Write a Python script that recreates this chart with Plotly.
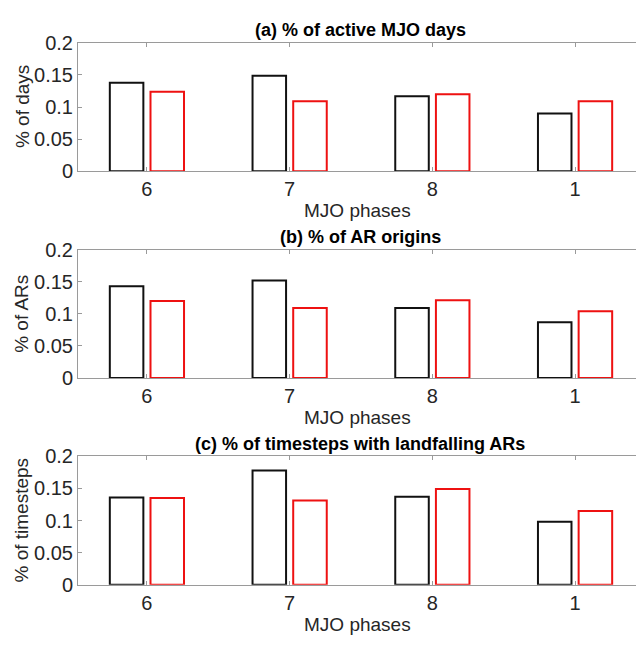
import plotly.graph_objects as go

W, H = 636, 645

phases = ["6", "7", "8", "1"]
positions = [1, 2, 3, 4]

days_black = [0.138, 0.149, 0.117, 0.090]
days_red = [0.124, 0.109, 0.120, 0.109]

origins_black = [0.143, 0.152, 0.109, 0.087]
origins_red = [0.120, 0.109, 0.121, 0.104]

land_black = [0.136, 0.178, 0.137, 0.098]
land_red = [0.135, 0.131, 0.149, 0.115]

panel_titles = ["(a) % of active MJO days", "(b) % of AR origins",
                "(c) % of timesteps with landfalling ARs"]
y_titles = ["% of days", "% of ARs", "% of timesteps"]
x_title = "MJO phases"
y_ticks = [0, 0.05, 0.1, 0.15, 0.2]
y_ticktext = ["0", "0.05", "0.1", "0.15", "0.2"]

series = [(days_black, days_red), (origins_black, origins_red), (land_black, land_red)]

# pixel geometry of each panel (top, bottom)
panels_px = [(33, 166), (247, 380), (461, 594)]
left_px = 78

FONT = "Helvetica, Liberation Sans, Arial, sans-serif"
AXC = "#9a9a9a"
TXT = "#262626"

fig = go.Figure()
annotations = []
for i, ((blk, red), (top, bot)) in enumerate(zip(series, panels_px)):
    xa = "x" if i == 0 else f"x{i+1}"
    ya = "y" if i == 0 else f"y{i+1}"
    fig.add_trace(go.Bar(x=positions, y=blk, width=0.235, offset=-0.26,
                         marker=dict(color="white", line=dict(color="#111111", width=2)),
                         xaxis=xa, yaxis=ya, showlegend=False))
    fig.add_trace(go.Bar(x=positions, y=red, width=0.235, offset=0.025,
                         marker=dict(color="white", line=dict(color="#ee1111", width=2)),
                         xaxis=xa, yaxis=ya, showlegend=False))
    dom_y = [1 - bot / H, 1 - top / H]
    xkey = "xaxis" if i == 0 else f"xaxis{i+1}"
    ykey = "yaxis" if i == 0 else f"yaxis{i+1}"
    fig.update_layout(**{
        xkey: dict(domain=[left_px / W, 1.0], range=[0.517, 4.427],
                   tickvals=positions, ticktext=phases, anchor=ya,
                   showline=True, linecolor=AXC, linewidth=1, mirror="ticks",
                   ticks="inside", ticklen=4, tickcolor=AXC, showgrid=False,
                   zeroline=False, tickfont=dict(size=20, color=TXT, family=FONT),
                   ticklabelstandoff=0),
        ykey: dict(domain=dom_y, range=[0, 0.2], tickvals=y_ticks, ticktext=y_ticktext,
                   anchor=xa, showline=True, linecolor=AXC, linewidth=1,
                   ticks="inside", ticklen=4, tickcolor=AXC, showgrid=False,
                   zeroline=False, tickfont=dict(size=20, color=TXT, family=FONT),
                   ticklabelstandoff=0),
    })
    annotations.append(dict(text="<b>" + panel_titles[i] + "</b>", x=360 / W,
                            y=1 - (top - 13) / H, xref="paper", yref="paper",
                            showarrow=False, xanchor="center", yanchor="middle",
                            font=dict(size=18, color="#000000", family=FONT)))
    annotations.append(dict(text=x_title, x=357 / W, y=1 - (bot + 41) / H,
                            xref="paper", yref="paper", showarrow=False,
                            xanchor="center", yanchor="middle",
                            font=dict(size=19, color=TXT, family=FONT)))
    annotations.append(dict(text=y_titles[i], x=22 / W, y=1 - ((top + bot) / 2) / H,
                            xref="paper", yref="paper", showarrow=False, textangle=-90,
                            xanchor="center", yanchor="middle",
                            font=dict(size=19, color=TXT, family=FONT)))

fig.update_layout(width=W, height=H, margin=dict(l=0, r=0, t=0, b=0),
                  paper_bgcolor="white", plot_bgcolor="white",
                  barmode="overlay", annotations=annotations,
                  font=dict(family=FONT, color=TXT))
fig.write_html("out.html", config={"displayModeBar": False},
               post_script="document.body.style.margin='0';"
                           "document.documentElement.style.overflow='hidden';")
